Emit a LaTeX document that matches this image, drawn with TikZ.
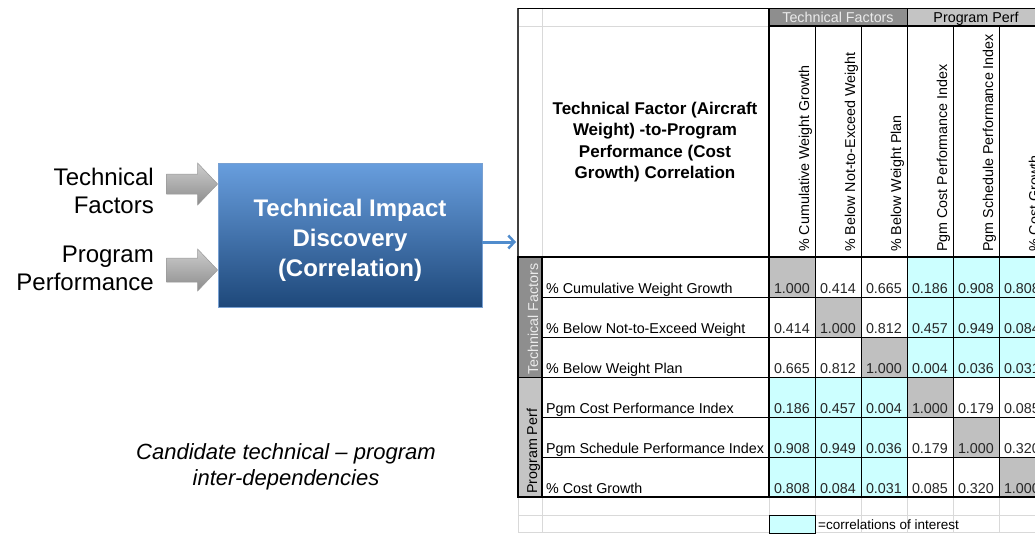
\documentclass[tikz,border=0pt]{standalone}
\usepackage{fontspec}
\setmainfont{Liberation Sans}
\usetikzlibrary{arrows.meta,calc}
\definecolor{cyanc}{HTML}{CCFFFF}
\definecolor{diagc}{HTML}{C0C0C0}
\definecolor{darkhdr}{HTML}{8E8E8E}
\definecolor{lighthdr}{HTML}{C4C4C4}
\definecolor{gridc}{HTML}{D9D9D9}
\definecolor{boxtop}{RGB}{104,158,222}
\definecolor{boxbot}{RGB}{30,72,122}
\definecolor{boxedge}{RGB}{120,160,210}
\definecolor{arrtop}{RGB}{205,205,205}
\definecolor{arrbot}{RGB}{140,140,140}
\definecolor{bluearr}{RGB}{80,140,205}
\begin{document}
\begin{tikzpicture}[x=1pt,y=-1pt,
  sidelbl/.style={font=\fontsize{24}{28}\selectfont, align=right, anchor=base east, inner sep=0},
  boxstyle/.style={draw=boxedge, line width=0.8pt, top color=boxtop, bottom color=boxbot,
     minimum width=264pt, minimum height=144pt, inner sep=0},
  boxtext/.style={text=white, font=\bfseries\fontsize{24}{30}\selectfont, align=center, inner sep=0},
  grayarrow/.style={draw=gray!80, line width=0.5pt, top color=arrtop, bottom color=arrbot},
  caption/.style={font=\itshape\fontsize{22}{26}\selectfont, align=center, anchor=base, inner sep=0},
  cellnum/.style={font=\fontsize{14.3}{16}\selectfont, text=black!85, inner sep=0, anchor=base east},
  rowlbl/.style={font=\fontsize{14.3}{16}\selectfont, inner sep=0, anchor=base west},
  colhdr/.style={font=\fontsize{14.3}{16}\selectfont, inner sep=0, anchor=base west, rotate=90},
  grphdr/.style={font=\fontsize{14.3}{16}\selectfont, inner sep=0, anchor=base},
  thinb/.style={line width=1pt, black},
  thickb/.style={line width=2.4pt, black},
  gridl/.style={line width=1pt, gridc},
]
\useasboundingbox (0,0) rectangle (1035,533);
\fill[white] (0,0) rectangle (1035,533);

% ---------- left part ----------
\node[sidelbl] (tf) at (154,213) {Technical\\Factors};
\node[sidelbl] (pp) at (154,290) {Program\\Performance};

\node[boxstyle] (box) at (350,235) {};
\node[boxtext] (boxt) at ($(box.center)+(0,5)$) {Technical Impact\\Discovery\\(Correlation)};

% gray block arrows pointing into the box
\coordinate (a1) at (box.west |- 0,184);
\coordinate (a2) at (box.west |- 0,270);
\path[grayarrow] ($(a1)+(-51,-10)$) -- ($(a1)+(-20,-10)$) -- ($(a1)+(-20,-21)$) -- (a1)
   -- ($(a1)+(-20,21)$) -- ($(a1)+(-20,10)$) -- ($(a1)+(-51,10)$) -- cycle;
\path[grayarrow] ($(a2)+(-51,-12)$) -- ($(a2)+(-20,-12)$) -- ($(a2)+(-20,-21)$) -- (a2)
   -- ($(a2)+(-20,21)$) -- ($(a2)+(-20,12)$) -- ($(a2)+(-51,12)$) -- cycle;

\coordinate (tblin) at (516,242);
\draw[bluearr, line width=3pt, -{Straight Barb[length=6pt,width=13pt,line width=2.5pt]}]
   (box.east |- tblin) -- (tblin);

\node[caption] (cap) at (286,485) {Candidate technical -- program\\inter-dependencies};

% ---------- table ----------
% group header row
\fill[darkhdr] (769,8) rectangle (907,26);
\fill[lighthdr] (907,8) rectangle (1035,26);
\node[grphdr, text=white!92!black] (gh1) at (838,22) {Technical Factors};
\node[grphdr] (gh2) at (976,22) {Program Perf};

% left vertical group labels
\fill[darkhdr] (518,257) rectangle (542,377);
\fill[lighthdr] (518,377) rectangle (542,497);
\node[colhdr, text=white!92!black] (vl1) at (538,375) {Technical Factors};
\node[colhdr] (vl2) at (537,494) {Program Perf};

% data cells
\foreach \vals [count=\r] in {{1.000,0.414,0.665,0.186,0.908,0.808},
                              {0.414,1.000,0.812,0.457,0.949,0.084},
                              {0.665,0.812,1.000,0.004,0.036,0.031},
                              {0.186,0.457,0.004,1.000,0.179,0.085},
                              {0.908,0.949,0.036,0.179,1.000,0.320},
                              {0.808,0.084,0.031,0.085,0.320,1.000}} {
  \foreach \v [count=\c] in \vals {
    \pgfmathsetmacro\xl{769+46*(\c-1)}
    \pgfmathsetmacro\yt{257+40*(\r-1)}
    \ifnum\r=\c \def\fc{diagc}\else
      \ifnum\r<4 \ifnum\c>3 \def\fc{cyanc}\else\def\fc{white}\fi
      \else \ifnum\c<4 \def\fc{cyanc}\else\def\fc{white}\fi\fi
    \fi
    \fill[\fc] (\xl,\yt) rectangle ++(46,40);
    \node[cellnum] (v\r\c) at (\xl+41,\yt+36) {\v};
  }
}

% column headers (rotated)
\foreach \t [count=\c] in {\% Cumulative Weight Growth, \% Below Not-to-Exceed Weight,
   \% Below Weight Plan, Pgm Cost Performance Index, Pgm Schedule Performance Index,
   \% Cost Growth} {
  \node[colhdr] (ch\c) at (769+46*\c-6,252) {\t};
}

% row labels
\foreach \t [count=\r] in {\% Cumulative Weight Growth, \% Below Not-to-Exceed Weight,
   \% Below Weight Plan, Pgm Cost Performance Index, Pgm Schedule Performance Index,
   \% Cost Growth} {
  \node[rowlbl] (rl\r) at (546,257+40*\r-4) {\t};
}

% title cell
\node[font=\bfseries\fontsize{17}{21.5}\selectfont, align=center, inner sep=0] (title)
   at (655,142) {Technical Factor (Aircraft\\Weight) -to-Program\\Performance (Cost\\Growth) Correlation};

% light grid lines
\draw[gridl] (518,26) -- (769,26);
\draw[gridl] (542,8) -- (542,257);
\draw[gridl] (542,497) -- (542,533);
\draw[gridl] (518,497) -- (518,533);
\draw[gridl] (518,515) -- (1035,515);
\draw[gridl] (518,532.5) -- (1035,532.5);
\foreach \x in {769,815,861,907,953,999} \draw[gridl] (\x,497) -- (\x,533);

% legend
\node[draw=black, line width=1pt, fill=cyanc, minimum width=46pt, minimum height=18pt, inner sep=0, anchor=north west] (leg) at (769,515) {};
\node[font=\fontsize{13.5}{16}\selectfont, inner sep=0, anchor=base west] (legt) at (818,529) {=correlations of interest};

% black lines
\draw[black!75, line width=1.2pt] (518,8) -- (518,257);
\draw[thinb] (518,8) -- (1035,8);
\draw[line width=1.6pt] (769,26) -- (1035,26);
\draw[thinb] (907,8) -- (907,26);
\foreach \x in {815,861,907,953,999} \draw[thinb] (\x,26) -- (\x,497);
\foreach \y in {297,337,417,457} \draw[thinb] (542,\y) -- (1035,\y);
\draw[thinb] (518,377) -- (1035,377);
\draw[thickb] (769,8) -- (769,497);
\draw[thickb] (517,257) -- (1035,257);
\draw[thickb] (517,497) -- (1035,497);
\draw[thickb] (518,257) -- (518,497);
\draw[line width=1.8pt] (542,257) -- (542,497);
\end{tikzpicture}
\end{document}
